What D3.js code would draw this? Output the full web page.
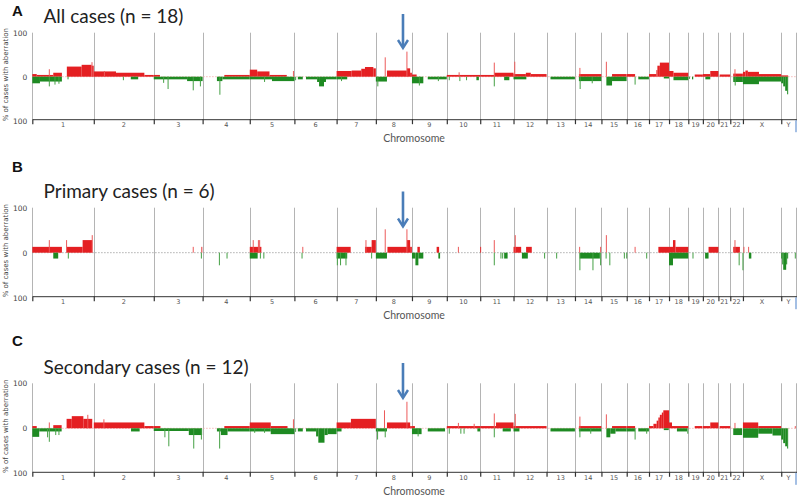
<!DOCTYPE html>
<html><head><meta charset="utf-8">
<script src="https://cdn.jsdelivr.net/npm/d3@7"></script>
<style>html,body{margin:0;padding:0;background:#fff;}svg{display:block;}</style>
</head><body>
<svg id="chart" width="797" height="496"></svg>
<script>
// ---------------- DATA ----------------
const chromosomes = ["1","2","3","4","5","6","7","8","9","10","11","12","13","14","15","16","17","18","19","20","21","22","X","Y"];
const chromLengthsMb = [249.25,243.2,198.0,191.15,180.9,171.1,159.1,146.4,141.2,135.5,135.0,133.85,115.2,107.3,102.5,90.35,81.2,78.1,59.1,63.0,48.1,51.3,155.3,59.4];
const yTickValues = [100, 0, -100];
const yTickLabels = ["100", "0", "100"];
const panelLetters = ["A", "B", "C"];
const panelTitles = ["All cases (n = 18)", "Primary cases (n = 6)", "Secondary cases (n = 12)"];
const xAxisTitle = "Chromosome";
const yAxisTitle = "% of cases with aberration";
const arrowTarget = ["8", 110]; // chromosome, Mb

// segments: [chromosome, startMb, endMb, % of cases]
const gainsA = [
 ["1",0,18,6],["1",18,85,4],["1",85,120,9],["1",140,200,23],["1",200,240,27],["1",240,249,25],
 ["2",0,90,12],["2",90,205,9],["2",205,243,4],
 ["3",0,25,4],["4",88,191,4],
 ["5",0,30,16],["5",30,80,12],["5",80,150,4],
 ["7",0,61,13],["7",61,100,14],["7",100,115,18],["7",115,149,22],["7",149,159,19],
 ["8",45,126,14],["8",126,139,19],["8",139,146,9],
 ["9",0,19,5],["10",0,135,4],["11",0,57,4],["11",57,135,9],
 ["12",0,50,6],["12",50,70,9],["12",70,134,6],
 ["14",16,107,6],["15",43,102,6],["16",0,34,6],
 ["17",0,30,6],["17",30,34,15],["17",34,44,25],["17",44,81,32],
 ["18",0,18,13],["18",18,78,9],["19",26,59,5],["20",0,30,6],["20",30,63,13],
 ["21",5,48,5],["22",12,51,7],
 ["X",0,10,11],["X",10,20,14],["X",20,65,11],["X",65,155,6],["Y",0,28,3]
];
const lossesA = [
 ["1",0,31,15],["1",31,120,11],["1",143,146,6],["2",150,180,6],
 ["3",0,135,6],["3",135,198,10],["4",58,80,10],["4",80,191,6],
 ["5",0,90,6],["5",90,181,10],
 ["6",14,34,6],["6",47,92,6],["6",92,100,12],["6",100,120,22],["6",120,128,12],["6",128,171,6],
 ["7",0,43,6],["8",0,45,11],["9",0,46,15],["9",64,141,6],["10",120,130,8],["11",97,118,8],
 ["12",0,52,6],["13",16,115,6],["14",16,107,10],["15",20,43,20],["15",43,102,10],
 ["16",47,90,6],["17",60,81,4],["18",18,78,8],["19",15,20,6],["20",10,30,6],["22",12,51,12],
 ["X",0,65,17],["X",65,155,11],["Y",0,8,15],["Y",8,16,22],["Y",16,24,32],["Y",24,28,40]
];
// spikes: [chromosome, positionMb, % of cases]
const gainSpikesA = [["1",69,17],["1",242,33],["2",43,13],["5",177,13],["8",38,44],["8",126,57],["10",50,10],["11",57,32],["12",5,34],["14",20,20],["15",20,34],["22",19,17]];
const lossSpikesA = [["1",69,22],["1",92,18],["1",108,16],["2",120,8],["3",40,14],["3",58,28],["3",160,31],["3",189,22],["4",70,41],["5",60,12],["6",5,8],["7",20,10],["8",8,22],["9",30,20],["9",107,10],["10",10,8],["10",53,10],["10",80,8],["11",57,22],["14",21,28],["14",70,15],["16",34,18],["19",5,5],["22",20,20]];

const gainsB = [
 ["1",0,120,13],["1",139,204,13],["1",204,243,28],["3",193,195,13],["5",0,47,13],
 ["7",0,57,13],["7",115,142,13],["7",142,159,28],["8",47,126,13],["8",126,139,28],["8",139,146,13],
 ["9",22,32,13],["9",100,110,13],["11",0,2,13],["12",0,31,13],["12",51,74,13],
 ["17",38,81,13],["18",0,16,13],["18",16,26,28],["18",26,78,13],["20",23,63,13],["22",12,39,13]
];
const lossesB = [
 ["1",85,105,13],["5",0,32,13],["7",0,43,13],["8",0,45,13],["9",0,14,13],["9",14,26,28],["9",26,46,13],
 ["9",107,114,13],["11",97,111,13],["12",34,58,13],["14",19,101,13],["18",0,16,28],["18",16,78,13],
 ["20",9,23,13],["X",24,34,13],["Y",0,4,13],["Y",4,8,26],["Y",8,20,38],["Y",20,24,26],["Y",24,28,13]
];
const gainSpikesB = [["1",69,28],["1",139,28],["1",243,39],["3",160,13],["5",14,28],["5",35,28],["5",40,28],["6",34,13],["7",119,28],["8",38,52],["8",126,52],["10",47,13],["11",57,28],["12",7,39],["14",19,13],["14",104,13],["15",20,39],["16",34,13],["22",19,28],["X",4,13],["X",23,13]];
const lossSpikesB = [["1",146,13],["3",193,13],["4",68,28],["4",99,13],["5",43,13],["5",57,13],["6",31,13],["7",3,28],["7",16,28],["7",38,28],["7",142,13],["11",57,28],["11",84,13],["11",91,13],["12",126,13],["13",41,13],["14",20,39],["14",73,39],["14",104,28],["15",19,13],["15",34,28],["15",93,13],["16",0,13],["16",81,13],["19",19,13],["22",36,28],["X",0,39],["Y",57,13]];

const gainsC = [
 ["1",0,18,5],["1",85,119,7],["1",139,160,21],["1",160,207,27],["1",207,243,21],
 ["2",0,205,13],["2",205,243,5],["3",0,27,5],["4",88,191,5],["5",0,85,13],["5",85,153,5],
 ["7",0,58,13],["7",58,159,21],["8",45,139,13],["8",139,146,5],["9",0,12,5],["10",0,135,5],
 ["11",0,64,5],["11",64,135,13],["12",0,134,5],["14",16,107,5],["15",43,102,5],["16",0,34,5],
 ["17",0,18,5],["17",18,31,10],["17",31,38,17],["17",38,44,24],["17",44,52,30],["17",52,58,35],["17",58,81,40],
 ["18",0,12,13],["18",12,78,5],["19",26,57,5],["20",0,30,5],["20",30,63,13],["21",5,48,5],
 ["X",0,62,13],["X",62,155,5]
];
const lossesC = [
 ["1",0,28,19],["1",28,119,7],["2",151,186,7],["3",0,142,6],["3",142,196,15],
 ["4",58,74,7],["4",74,101,15],["4",101,191,7],["5",0,85,7],["5",85,181,13],
 ["6",14,34,7],["6",47,88,7],["6",88,97,18],["6",97,122,32],["6",122,135,15],["6",135,171,13],
 ["7",0,20,7],["8",0,45,7],["9",0,39,13],["9",64,134,7],["10",124,135,7],["11",91,124,7],
 ["12",0,24,7],["13",16,115,7],["14",16,107,7],["15",20,36,20],["15",36,57,12],["15",57,102,7],
 ["16",0,34,7],["16",47,90,7],["17",60,80,4],["18",32,73,7],["22",12,48,15],
 ["X",0,62,21],["X",62,120,12],["X",120,155,16],["Y",0,8,25],["Y",8,16,33],["Y",16,24,40],["Y",24,28,45]
];
const gainSpikesC = [["1",69,13],["1",225,30],["2",41,20],["5",177,20],["8",35,40],["8",126,59],["10",47,12],["10",111,10],["11",57,33],["12",7,32],["14",20,26],["15",20,31],["22",19,12],["Y",57,5]];
const lossSpikesC = [["1",62,20],["1",69,30],["1",95,15],["1",108,15],["3",45,20],["3",61,40],["3",162,45],["3",193,25],["4",69,45],["5",20,10],["5",60,10],["6",5,8],["8",7,25],["8",38,20],["9",25,18],["10",10,12],["10",57,12],["10",70,12],["11",57,20],["14",20,20],["14",64,12],["16",34,25],["16",81,12],["18",76,12]];

// ---------------- LAYOUT ----------------
const panelLayout = [
  {zero:76.7, half:44, titleY:22.5, letterY:15.5, arrowTop:14, arrowTip:48, zeroColor:"#f2a9a9", data:[gainsA,lossesA,gainSpikesA,lossSpikesA]},
  {zero:252.7, half:45, titleY:197.5, letterY:171.5, arrowTop:191.5, arrowTip:226.5, zeroColor:"#9a9a9a", data:[gainsB,lossesB,gainSpikesB,lossSpikesB]},
  {zero:428.3, half:45, titleY:373.5, letterY:345.5, arrowTop:363, arrowTip:398, zeroColor:"#f2a9a9", data:[gainsC,lossesC,gainSpikesC,lossSpikesC]}
];
const gainColor = "#e41f22", lossColor = "#1e8a22";
const gainSpikeColor = "#ec5a5a", lossSpikeColor = "#45a045";

const svg = d3.select("#chart");
const offsets = {};
let acc = 0;
chromosomes.forEach((c,i)=>{ offsets[c]=acc; acc+=chromLengthsMb[i]; });
const totalMb = acc;
const x = d3.scaleLinear().domain([0,totalMb]).range([32.3,795.9]);
const gx = (c,mb)=>x(offsets[c]+mb);
const boundaries = chromosomes.map(c=>offsets[c]).concat([totalMb]);

panelLayout.forEach((p,pi)=>{
  const y = d3.scaleLinear().domain([-100,100]).range([p.zero+p.half, p.zero-p.half]);
  const axisY = y(-100) - 1.5;
  const g = svg.append("g");

  // gray chromosome separators
  g.selectAll("line.sep").data(boundaries).join("line")
    .attr("x1",d=>Math.round(x(d))+0.5).attr("x2",d=>Math.round(x(d))+0.5)
    .attr("y1",y(100)).attr("y2",axisY)
    .attr("stroke","#b4b4b4").attr("stroke-width",1);

  // zero dotted line
  g.append("line").attr("x1",x(0)).attr("x2",x(totalMb)).attr("y1",y(0)).attr("y2",y(0))
    .attr("stroke",p.zeroColor).attr("stroke-width",1).attr("stroke-dasharray","1.2,1.8");

  const [gains,losses,gsp,lsp] = p.data;
  g.selectAll("rect.gain").data(gains).join("rect")
    .attr("x",d=>gx(d[0],d[1])).attr("width",d=>Math.max(0.9,gx(d[0],d[2])-gx(d[0],d[1])))
    .attr("y",d=>y(d[3])).attr("height",d=>y(0)-y(d[3])).attr("fill",gainColor);
  g.selectAll("rect.loss").data(losses).join("rect")
    .attr("x",d=>gx(d[0],d[1])).attr("width",d=>Math.max(0.9,gx(d[0],d[2])-gx(d[0],d[1])))
    .attr("y",y(0)).attr("height",d=>y(0)-y(d[3])).attr("fill",lossColor);
  g.selectAll("line.gsp").data(gsp).join("line")
    .attr("x1",d=>gx(d[0],d[1])).attr("x2",d=>gx(d[0],d[1]))
    .attr("y1",y(0)).attr("y2",d=>y(d[2])).attr("stroke",gainSpikeColor).attr("stroke-width",1);
  g.selectAll("line.lsp").data(lsp).join("line")
    .attr("x1",d=>gx(d[0],d[1])).attr("x2",d=>gx(d[0],d[1]))
    .attr("y1",y(0)).attr("y2",d=>y(-d[2])).attr("stroke",lossSpikeColor).attr("stroke-width",1);

  // bottom axis with ticks at chromosome boundaries
  const xAxis = d3.axisBottom(x).tickValues(boundaries).tickFormat("").tickSize(5).tickSizeOuter(0);
  const ax = g.append("g").attr("transform",`translate(0,${axisY})`).call(xAxis);
  ax.select(".domain").attr("stroke","#333");
  ax.selectAll(".tick line").attr("stroke","#333").attr("stroke-width",1.2);

  // chromosome labels
  g.selectAll("text.chr").data(chromosomes).join("text")
    .attr("x",(c,i)=>x(offsets[c]+chromLengthsMb[i]/2)).attr("y",axisY+8)
    .attr("text-anchor","middle").attr("font-family","DejaVu Sans, Verdana, sans-serif")
    .attr("font-size","6.5px").attr("fill","#555").text(c=>c);

  // y axis
  const yAxis = d3.axisLeft(y).tickValues(yTickValues).tickFormat((d,i)=>yTickLabels[i]).tickSize(0).tickPadding(5);
  const ay = g.append("g").attr("transform",`translate(${x(0)},0)`).call(yAxis);
  ay.select(".domain").remove();
  ay.selectAll("text").attr("font-family","DejaVu Sans, Verdana, sans-serif").attr("font-size","7.5px").attr("fill","#444");

  g.append("text").attr("transform",`translate(8,${p.zero-2}) rotate(-90)`)
    .attr("text-anchor","middle").attr("font-family","DejaVu Sans, Verdana, sans-serif")
    .attr("font-size","7px").attr("fill","#444").text(yAxisTitle);

  g.append("text").attr("x",414).attr("y",axisY+23).attr("text-anchor","middle")
    .attr("font-family","Lato, 'Open Sans', sans-serif").attr("font-size","10.5px").attr("fill","#555").text(xAxisTitle);

  // titles
  g.append("text").attr("x",12).attr("y",p.letterY).attr("font-family","Liberation Sans, Arial, sans-serif")
    .attr("font-weight","bold").attr("font-size","15px").attr("fill","#111").text(panelLetters[pi]);
  g.append("text").attr("x",43.5).attr("y",p.titleY).attr("font-family","Lato, 'Open Sans', sans-serif")
    .attr("font-size","19px").attr("fill","#222").text(panelTitles[pi]);

  // arrow
  const axp = gx(arrowTarget[0],arrowTarget[1]);
  g.append("line").attr("x1",axp).attr("x2",axp).attr("y1",p.arrowTop).attr("y2",p.arrowTip-1)
    .attr("stroke","#4a7db8").attr("stroke-width",2.6);
  g.append("path").attr("d",`M${axp-5},${p.arrowTip-8}L${axp},${p.arrowTip}L${axp+5},${p.arrowTip-8}`)
    .attr("fill","none").attr("stroke","#4a7db8").attr("stroke-width",2.4);

  // blue marker at right end of axis
  g.append("rect").attr("x",795).attr("y",axisY+1).attr("width",2).attr("height",12).attr("fill","#a4bfe4");
});
</script>
</body></html>
